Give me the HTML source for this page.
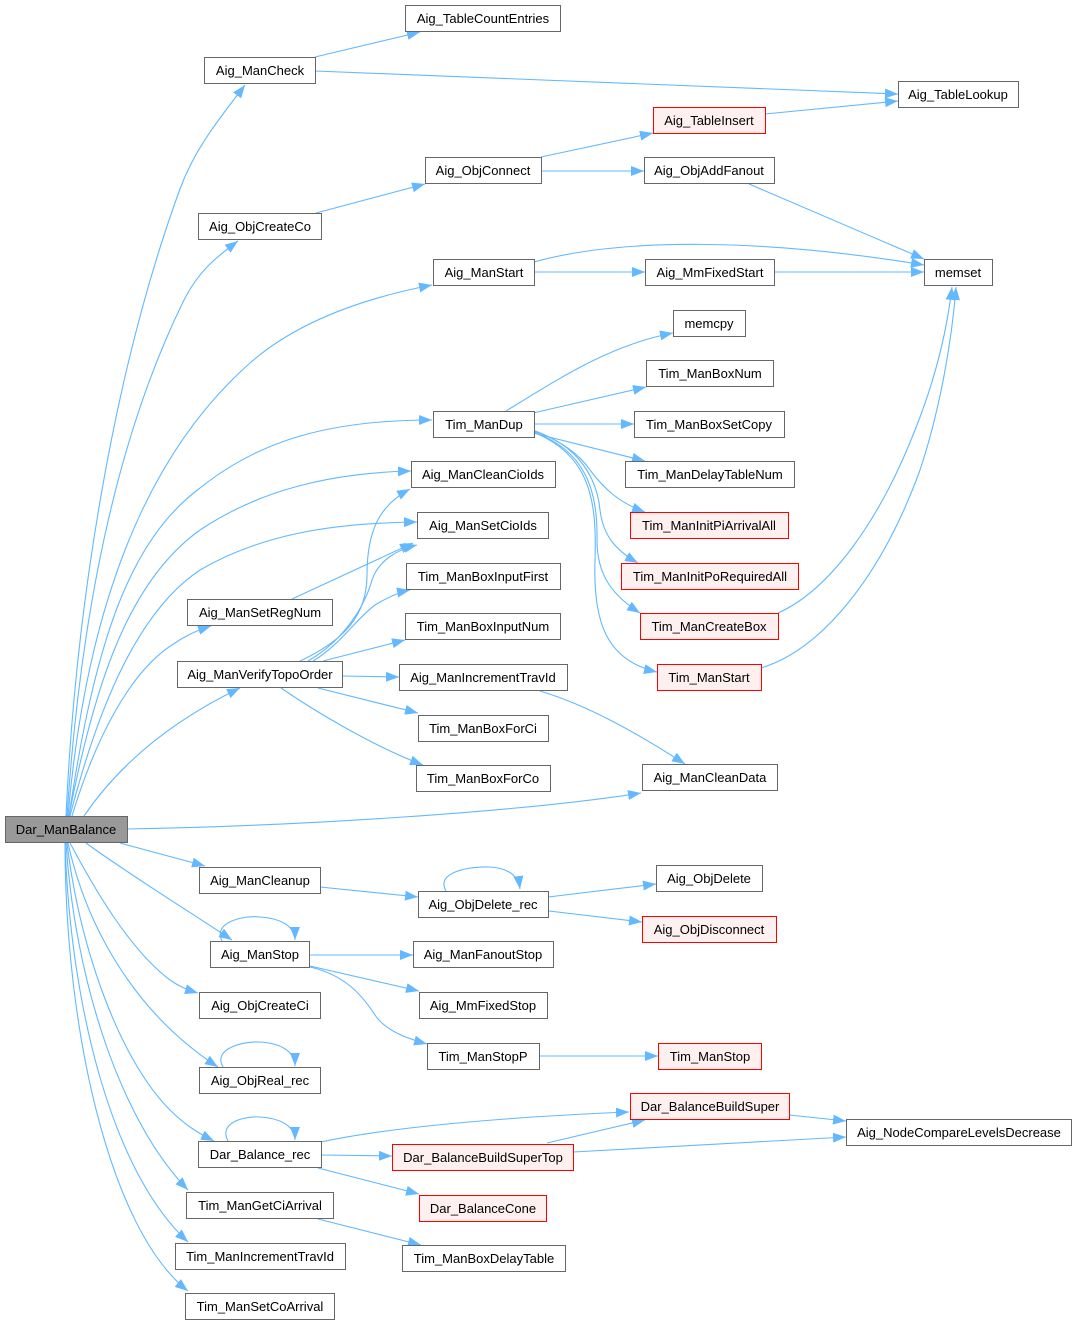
<!DOCTYPE html>
<html><head><meta charset="utf-8"><style>
html,body{margin:0;padding:0;background:#fff;}
svg{display:block;}
text{font-family:"Liberation Sans",Arial,sans-serif;font-size:13px;fill:#000;text-anchor:middle;}
.n{fill:#fff;stroke:#666;stroke-width:1;}
.r{fill:#fff0f0;stroke:#ff0000;stroke-width:1;}
.g{fill:#999;stroke:#666;stroke-width:1;}
.e{fill:none;stroke:#63b8ff;stroke-width:1.1;marker-end:url(#a);}
</style></head><body>
<svg width="1076" height="1325" viewBox="0 0 1076 1325" xmlns="http://www.w3.org/2000/svg">
<defs>
<marker id="a" viewBox="0 0 13 10" refX="13" refY="5" markerWidth="13" markerHeight="10" markerUnits="userSpaceOnUse" orient="auto">
<path d="M0,0 L13,5 L0,10 z" fill="#63b8ff"/>
</marker>
</defs>
<g>
<path class="e" d="M315,57 L420,32"/>
<path class="e" d="M315,71 L898,94"/>
<path class="e" d="M765,114 L898,101"/>
<path class="e" d="M541,157 L653,133"/>
<path class="e" d="M541,171 L644,171"/>
<path class="e" d="M749,184 L924,259"/>
<path class="e" d="M316,213 L425,184"/>
<path class="e" d="M534,262 C620,238 760,238 924,265"/>
<path class="e" d="M534,272 L645,272"/>
<path class="e" d="M774,272 L924,272"/>
<path class="e" d="M66,816 C75,620 110,380 180,189 C195,148 220,118 245,85"/>
<path class="e" d="M67,816 C80,620 115,440 184,300 C198,272 215,258 238,241"/>
<path class="e" d="M68,816 C85,620 140,460 250,363 C300,319 370,297 432,285"/>
<path class="e" d="M69,816 C95,640 130,540 200,488 C260,440 330,420 432,420"/>
<path class="e" d="M69,816 C95,680 130,580 200,530 C260,490 330,473 411,471"/>
<path class="e" d="M70,816 C100,700 140,610 200,570 C260,535 330,523 417,522"/>
<path class="e" d="M72,816 C95,740 130,670 175,643 C185,636 195,631 211,626"/>
<path class="e" d="M84,816 Q138,737 240,688"/>
<path class="e" d="M127,829 C300,826 520,812 641,793"/>
<path class="e" d="M506,411 C560,378 610,345 673,333"/>
<path class="e" d="M533,413 L646,387"/>
<path class="e" d="M534,424 L634,424"/>
<path class="e" d="M533,433 L645,461"/>
<path class="e" d="M533,430 C560,440 580,455 590,470 C605,490 620,503 645,512"/>
<path class="e" d="M533,431 C580,445 597,480 600,510 C603,535 615,550 638,563"/>
<path class="e" d="M533,432 C585,450 598,490 597,540 C597,575 612,595 640,613"/>
<path class="e" d="M533,432 C590,455 597,500 595,560 C593,620 605,660 657,672"/>
<path class="e" d="M778,613 C830,590 880,520 915,430 C935,380 947,330 952,287"/>
<path class="e" d="M761,668 C820,650 880,580 920,470 C940,410 952,340 956,287"/>
<path class="e" d="M300,661 C345,640 367,615 367,575 C367,530 380,505 410,489"/>
<path class="e" d="M308,661 C345,640 365,605 372,580 C378,562 395,550 417,545"/>
<path class="e" d="M292,599 L413,543"/>
<path class="e" d="M313,661 C340,645 355,620 375,605 C390,596 400,592 410,590"/>
<path class="e" d="M323,661 L405,640"/>
<path class="e" d="M342,676 L399,677"/>
<path class="e" d="M318,688 L418,713"/>
<path class="e" d="M281,688 C310,708 370,745 423,765"/>
<path class="e" d="M540,691 C590,706 640,735 685,764"/>
<path class="e" d="M120,843 L205,866"/>
<path class="e" d="M86,843 C130,875 190,912 232,940"/>
<path class="e" d="M70,843 C95,890 130,950 170,980 C180,987 188,990 198,993"/>
<path class="e" d="M68,843 C85,920 130,1010 218,1067"/>
<path class="e" d="M67,843 C80,950 120,1060 170,1110 C185,1125 198,1133 214,1141"/>
<path class="e" d="M66,843 C75,980 120,1120 188,1190"/>
<path class="e" d="M65,843 C70,1000 110,1170 188,1242"/>
<path class="e" d="M65,843 C65,1030 110,1230 188,1291"/>
<path class="e" d="M320,887 L418,897"/>
<path class="e" d="M446,891 C435,872 470,866 490,867 C505,868 518,873 520,889"/>
<path class="e" d="M548,897 L656,884"/>
<path class="e" d="M549,911 L642,922"/>
<path class="e" d="M222,941 C212,922 245,915 260,917 C278,918 295,925 295,940"/>
<path class="e" d="M310,955 L413,955"/>
<path class="e" d="M310,966 L419,991"/>
<path class="e" d="M310,967 C345,975 362,995 375,1015 C385,1030 405,1038 427,1044"/>
<path class="e" d="M539,1056 L658,1056"/>
<path class="e" d="M223,1067 C212,1048 245,1041 260,1042 C278,1043 295,1050 295,1066"/>
<path class="e" d="M228,1141 C218,1122 245,1116 260,1117 C278,1118 295,1125 295,1140"/>
<path class="e" d="M321,1142 C400,1125 530,1116 629,1112"/>
<path class="e" d="M321,1155 L392,1156"/>
<path class="e" d="M318,1168 L419,1194"/>
<path class="e" d="M547,1143 L645,1120"/>
<path class="e" d="M573,1152 L846,1137"/>
<path class="e" d="M789,1115 L846,1121"/>
<path class="e" d="M318,1219 L421,1245"/>
</g>
<g>
<rect class="n" x="405.5" y="5.5" width="155" height="26"/><text x="483" y="23">Aig_TableCountEntries</text>
<rect class="n" x="204.5" y="57.5" width="111" height="26"/><text x="260" y="75">Aig_ManCheck</text>
<rect class="n" x="898.5" y="81.5" width="120" height="26"/><text x="958" y="99">Aig_TableLookup</text>
<rect class="r" x="653.5" y="107.5" width="112" height="26"/><text x="709" y="125">Aig_TableInsert</text>
<rect class="n" x="425.5" y="157.5" width="116" height="26"/><text x="483" y="175">Aig_ObjConnect</text>
<rect class="n" x="644.5" y="157.5" width="130" height="26"/><text x="709" y="175">Aig_ObjAddFanout</text>
<rect class="n" x="198.5" y="213.5" width="123" height="26"/><text x="260" y="231">Aig_ObjCreateCo</text>
<rect class="n" x="433.5" y="259.5" width="101" height="26"/><text x="484" y="277">Aig_ManStart</text>
<rect class="n" x="645.5" y="259.5" width="129" height="26"/><text x="710" y="277">Aig_MmFixedStart</text>
<rect class="n" x="924.5" y="259.5" width="68" height="26"/><text x="958" y="277">memset</text>
<rect class="n" x="673.5" y="310.5" width="72" height="26"/><text x="709" y="328">memcpy</text>
<rect class="n" x="646.5" y="360.5" width="127" height="26"/><text x="710" y="378">Tim_ManBoxNum</text>
<rect class="n" x="433.5" y="411.5" width="101" height="26"/><text x="484" y="429">Tim_ManDup</text>
<rect class="n" x="634.5" y="411.5" width="150" height="26"/><text x="709" y="429">Tim_ManBoxSetCopy</text>
<rect class="n" x="411.5" y="461.5" width="144" height="26"/><text x="483" y="479">Aig_ManCleanCioIds</text>
<rect class="n" x="625.5" y="461.5" width="169" height="26"/><text x="710" y="479">Tim_ManDelayTableNum</text>
<rect class="n" x="417.5" y="512.5" width="131" height="26"/><text x="483" y="530">Aig_ManSetCioIds</text>
<rect class="r" x="630.5" y="512.5" width="158" height="26"/><text x="709" y="530">Tim_ManInitPiArrivalAll</text>
<rect class="n" x="406.5" y="563.5" width="154" height="26"/><text x="483" y="581">Tim_ManBoxInputFirst</text>
<rect class="r" x="621.5" y="563.5" width="177" height="26"/><text x="710" y="581">Tim_ManInitPoRequiredAll</text>
<rect class="n" x="187.5" y="599.5" width="145" height="26"/><text x="260" y="617">Aig_ManSetRegNum</text>
<rect class="n" x="405.5" y="613.5" width="155" height="26"/><text x="483" y="631">Tim_ManBoxInputNum</text>
<rect class="r" x="640.5" y="613.5" width="138" height="26"/><text x="709" y="631">Tim_ManCreateBox</text>
<rect class="n" x="177.5" y="661.5" width="165" height="26"/><text x="260" y="679">Aig_ManVerifyTopoOrder</text>
<rect class="n" x="399.5" y="664.5" width="168" height="26"/><text x="483" y="682">Aig_ManIncrementTravId</text>
<rect class="r" x="657.5" y="664.5" width="104" height="26"/><text x="709" y="682">Tim_ManStart</text>
<rect class="n" x="418.5" y="715.5" width="130" height="26"/><text x="483" y="733">Tim_ManBoxForCi</text>
<rect class="n" x="642.5" y="764.5" width="135" height="26"/><text x="710" y="782">Aig_ManCleanData</text>
<rect class="n" x="416.5" y="765.5" width="134" height="26"/><text x="483" y="783">Tim_ManBoxForCo</text>
<rect class="g" x="5.5" y="816.5" width="122" height="26"/><text x="66" y="834">Dar_ManBalance</text>
<rect class="n" x="656.5" y="865.5" width="106" height="26"/><text x="709" y="883">Aig_ObjDelete</text>
<rect class="n" x="199.5" y="867.5" width="121" height="26"/><text x="260" y="885">Aig_ManCleanup</text>
<rect class="n" x="418.5" y="891.5" width="130" height="26"/><text x="483" y="909">Aig_ObjDelete_rec</text>
<rect class="r" x="642.5" y="916.5" width="134" height="26"/><text x="709" y="934">Aig_ObjDisconnect</text>
<rect class="n" x="210.5" y="941.5" width="99" height="26"/><text x="260" y="959">Aig_ManStop</text>
<rect class="n" x="413.5" y="941.5" width="140" height="26"/><text x="483" y="959">Aig_ManFanoutStop</text>
<rect class="n" x="199.5" y="992.5" width="121" height="26"/><text x="260" y="1010">Aig_ObjCreateCi</text>
<rect class="n" x="419.5" y="992.5" width="128" height="26"/><text x="483" y="1010">Aig_MmFixedStop</text>
<rect class="n" x="427.5" y="1043.5" width="112" height="26"/><text x="483" y="1061">Tim_ManStopP</text>
<rect class="r" x="658.5" y="1043.5" width="103" height="26"/><text x="710" y="1061">Tim_ManStop</text>
<rect class="n" x="199.5" y="1067.5" width="121" height="26"/><text x="260" y="1085">Aig_ObjReal_rec</text>
<rect class="r" x="630.5" y="1093.5" width="159" height="26"/><text x="710" y="1111">Dar_BalanceBuildSuper</text>
<rect class="n" x="846.5" y="1119.5" width="225" height="26"/><text x="959" y="1137">Aig_NodeCompareLevelsDecrease</text>
<rect class="n" x="198.5" y="1141.5" width="123" height="26"/><text x="260" y="1159">Dar_Balance_rec</text>
<rect class="r" x="392.5" y="1144.5" width="181" height="26"/><text x="483" y="1162">Dar_BalanceBuildSuperTop</text>
<rect class="n" x="186.5" y="1192.5" width="147" height="26"/><text x="260" y="1210">Tim_ManGetCiArrival</text>
<rect class="r" x="419.5" y="1195.5" width="127" height="26"/><text x="483" y="1213">Dar_BalanceCone</text>
<rect class="n" x="175.5" y="1243.5" width="170" height="26"/><text x="260" y="1261">Tim_ManIncrementTravId</text>
<rect class="n" x="402.5" y="1245.5" width="163" height="26"/><text x="484" y="1263">Tim_ManBoxDelayTable</text>
<rect class="n" x="185.5" y="1293.5" width="149" height="26"/><text x="260" y="1311">Tim_ManSetCoArrival</text>
</g>
</svg>
</body></html>
